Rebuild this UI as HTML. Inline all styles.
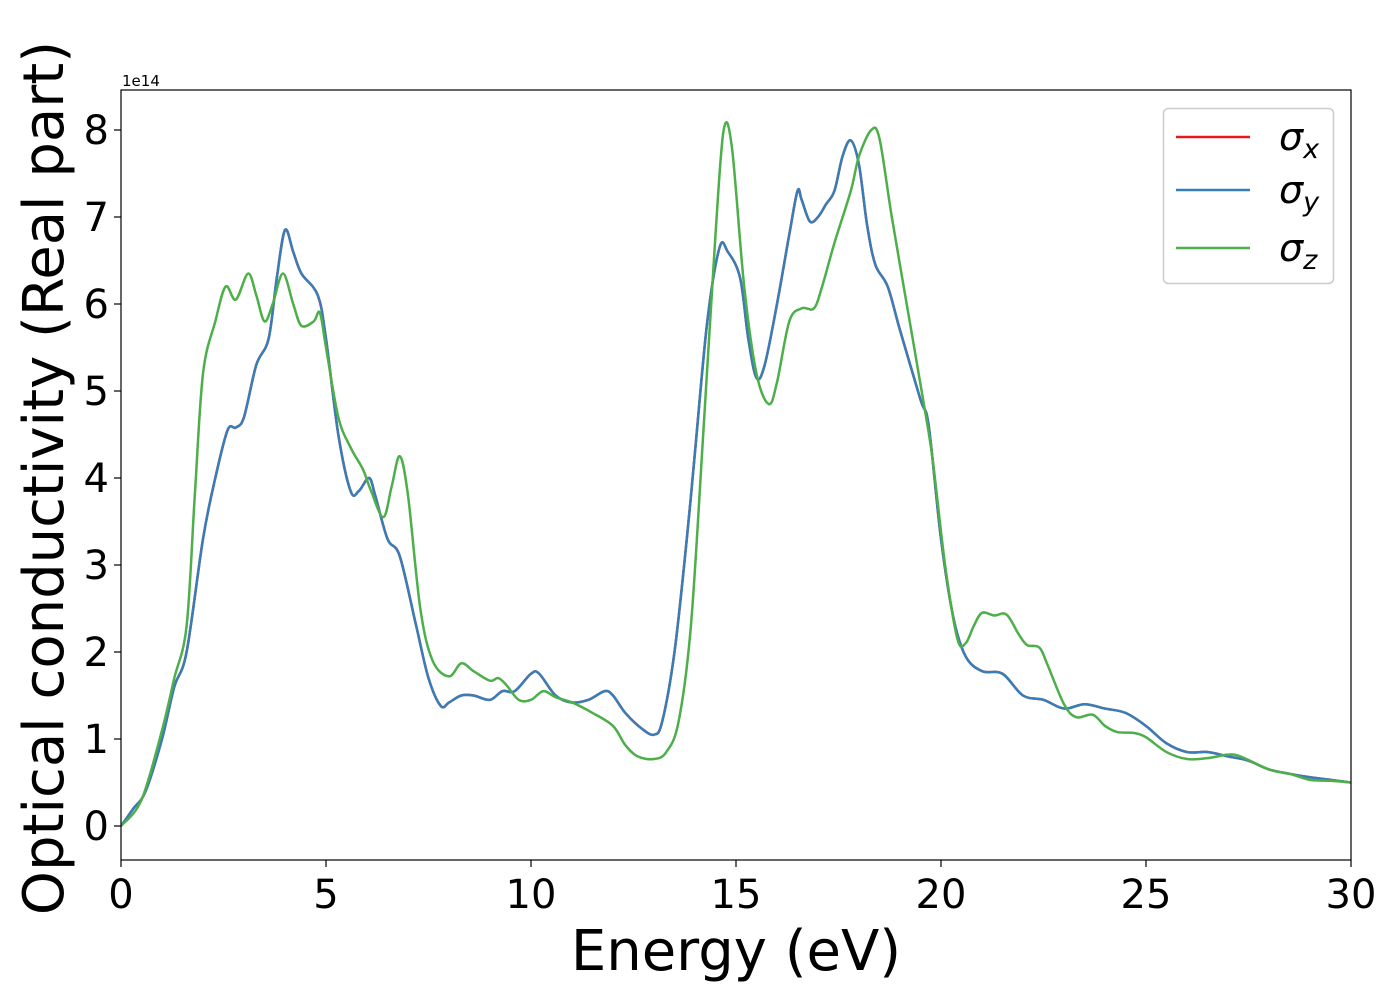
<!DOCTYPE html>
<html><head><meta charset="utf-8"><style>
body{margin:0;background:#fff;}
svg{display:block;font-family:"DejaVu Sans","Liberation Sans",sans-serif;}
</style></head><body>
<svg id="chart" width="1400" height="1000">
<rect x="0" y="0" width="1400" height="1000" fill="#fff"/>
<g id="plot"></g>
<text x="122" y="86" font-size="15">1e14</text>
<text x="736" y="970" font-size="56" text-anchor="middle">Energy (eV)</text>
<text transform="translate(63,478) rotate(-90)" font-size="56" text-anchor="middle">Optical conductivity (Real part)</text>
<g>
<rect x="1163.5" y="108.5" width="170" height="175" rx="5" fill="#fff" fill-opacity="0.8" stroke="#ccc" stroke-width="1.5"/>
<line x1="1176" y1="137" x2="1250" y2="137" stroke="#e41a1c" stroke-width="2.5"/>
<text x="1279" y="150" font-size="38" font-style="italic">σ<tspan font-size="27" dy="8">x</tspan></text>
<line x1="1176" y1="190" x2="1250" y2="190" stroke="#377eb8" stroke-width="2.5"/>
<text x="1279" y="203" font-size="38" font-style="italic">σ<tspan font-size="27" dy="8">y</tspan></text>
<line x1="1176" y1="248" x2="1250" y2="248" stroke="#4daf4a" stroke-width="2.5"/>
<text x="1279" y="261" font-size="38" font-style="italic">σ<tspan font-size="27" dy="8">z</tspan></text>
</g>
</svg>
<script>
const xTicks=[0,5,10,15,20,25,30];
const yTicks=[0,1,2,3,4,5,6,7,8];
const xyE=[0,0.3,0.6,1.0,1.3,1.6,2.0,2.3,2.6,2.8,3.0,3.3,3.6,3.8,4.0,4.2,4.4,4.8,5.0,5.3,5.6,5.8,6.05,6.2,6.5,6.8,7.2,7.5,7.8,8.0,8.3,8.6,9.0,9.3,9.6,10.0,10.2,10.6,11.0,11.4,11.8,12.0,12.3,12.7,13.0,13.2,13.5,13.8,14.0,14.3,14.6,14.8,15.1,15.3,15.5,15.7,16.0,16.3,16.5,16.6,16.8,17.0,17.2,17.4,17.6,17.8,18.0,18.2,18.4,18.7,19.0,19.5,19.7,20.0,20.3,20.6,21.0,21.5,22.0,22.5,23.0,23.5,24.0,24.5,25.0,25.5,26.0,26.5,27.0,27.5,28.0,28.5,29.0,29.5,30];
const sigmaX=[0,0.2,0.4,1.0,1.6,2.0,3.3,4.0,4.55,4.58,4.7,5.3,5.6,6.3,6.85,6.6,6.35,6.1,5.6,4.5,3.85,3.85,4.0,3.8,3.3,3.1,2.3,1.7,1.38,1.42,1.5,1.5,1.45,1.55,1.55,1.75,1.75,1.5,1.42,1.45,1.55,1.5,1.3,1.12,1.05,1.2,2.0,3.3,4.3,5.8,6.65,6.6,6.3,5.6,5.15,5.3,6.0,6.8,7.3,7.2,6.95,7.0,7.15,7.3,7.7,7.88,7.6,6.9,6.45,6.2,5.7,4.9,4.6,3.3,2.4,1.95,1.78,1.75,1.5,1.45,1.35,1.4,1.35,1.3,1.15,0.95,0.85,0.85,0.8,0.75,0.65,0.6,0.56,0.53,0.5];
const sigmaY=sigmaX.slice();
const zE=[0,0.5,1.0,1.3,1.6,1.8,2.0,2.3,2.55,2.8,3.1,3.3,3.5,3.7,3.95,4.2,4.4,4.7,4.85,5.0,5.3,5.6,5.9,6.1,6.4,6.6,6.8,7.0,7.3,7.6,8.0,8.3,8.6,9.0,9.2,9.4,9.7,10.0,10.3,10.6,11.0,11.5,12.0,12.3,12.6,13.0,13.3,13.6,13.9,14.2,14.5,14.7,14.9,15.2,15.5,15.8,16.0,16.3,16.6,16.9,17.1,17.4,17.8,18.0,18.3,18.5,18.8,19.2,19.6,19.8,20.1,20.4,20.6,20.8,21.0,21.3,21.6,21.9,22.1,22.4,22.6,23.0,23.3,23.7,24.0,24.3,24.7,25.0,25.5,26.0,26.5,27.0,27.3,28.0,28.5,29.0,29.5,30];
const sigmaZ=[0,0.3,1.1,1.7,2.3,3.8,5.2,5.8,6.2,6.05,6.35,6.1,5.8,6.0,6.35,6.0,5.75,5.8,5.9,5.5,4.7,4.35,4.1,3.85,3.55,3.9,4.25,3.8,2.5,1.9,1.72,1.87,1.78,1.67,1.7,1.62,1.45,1.45,1.55,1.48,1.42,1.3,1.15,0.93,0.8,0.77,0.85,1.2,2.3,4.5,6.8,8.0,7.8,6.2,5.2,4.85,5.1,5.8,5.95,5.95,6.2,6.7,7.3,7.7,8.0,7.9,7.0,5.9,4.8,4.2,3.0,2.15,2.1,2.3,2.45,2.42,2.43,2.2,2.08,2.05,1.85,1.4,1.25,1.28,1.15,1.08,1.07,1.02,0.85,0.77,0.78,0.82,0.8,0.65,0.6,0.53,0.52,0.5];
const L=121,R=1351,T=90,B=860;
const sx=v=>L+(v-0)/(30-0)*(R-L);
const sy=v=>826-v*87;
const NS='http://www.w3.org/2000/svg';
const g=document.getElementById('plot');
function mk(t,a){const e=document.createElementNS(NS,t);for(const k in a)e.setAttribute(k,a[k]);return e;}
const cp=mk('clipPath',{id:'clip'});cp.appendChild(mk('rect',{x:L,y:T,width:R-L,height:B-T}));g.appendChild(cp);
function pathD(xs,ys){const p=xs.map((x,i)=>[sx(x),sy(ys[i])]);let d='M'+p[0][0]+','+p[0][1];
for(let i=0;i<p.length-1;i++){const p0=p[Math.max(0,i-1)],p1=p[i],p2=p[i+1],p3=p[Math.min(p.length-1,i+2)];
const c1=[p1[0]+(p2[0]-p0[0])/6,p1[1]+(p2[1]-p0[1])/6],c2=[p2[0]-(p3[0]-p1[0])/6,p2[1]-(p3[1]-p1[1])/6];
d+=`C${c1[0]},${c1[1]} ${c2[0]},${c2[1]} ${p2[0]},${p2[1]}`;}return d;}
const series=[[xyE,sigmaX,'#e41a1c','series-sigma-x'],[xyE,sigmaY,'#377eb8','series-sigma-y'],[zE,sigmaZ,'#4daf4a','series-sigma-z']];
for(const s of series){const p=mk('path',{d:pathD(s[0],s[1]),fill:'none',stroke:s[2],'stroke-width':2.5,'clip-path':'url(#clip)'});


g.appendChild(p);}
const frame=mk('rect',{x:L,y:T,width:R-L,height:B-T,fill:'none',stroke:'#000','stroke-width':1.2});


g.appendChild(frame);
for(const t of xTicks){const x=sx(t);g.appendChild(mk('line',{x1:x,y1:B,x2:x,y2:B+7,stroke:'#000','stroke-width':1.2}));
const tx=mk('text',{x:x,y:B+48,'font-size':40,'text-anchor':'middle'});tx.textContent=t;


g.appendChild(tx);}
for(const t of yTicks){const y=sy(t);g.appendChild(mk('line',{x1:L-7,y1:y,x2:L,y2:y,stroke:'#000','stroke-width':1.2}));
const tx=mk('text',{x:L-12,y:y+14,'font-size':40,'text-anchor':'end'});tx.textContent=t;


g.appendChild(tx);}
</script>
</body></html>
